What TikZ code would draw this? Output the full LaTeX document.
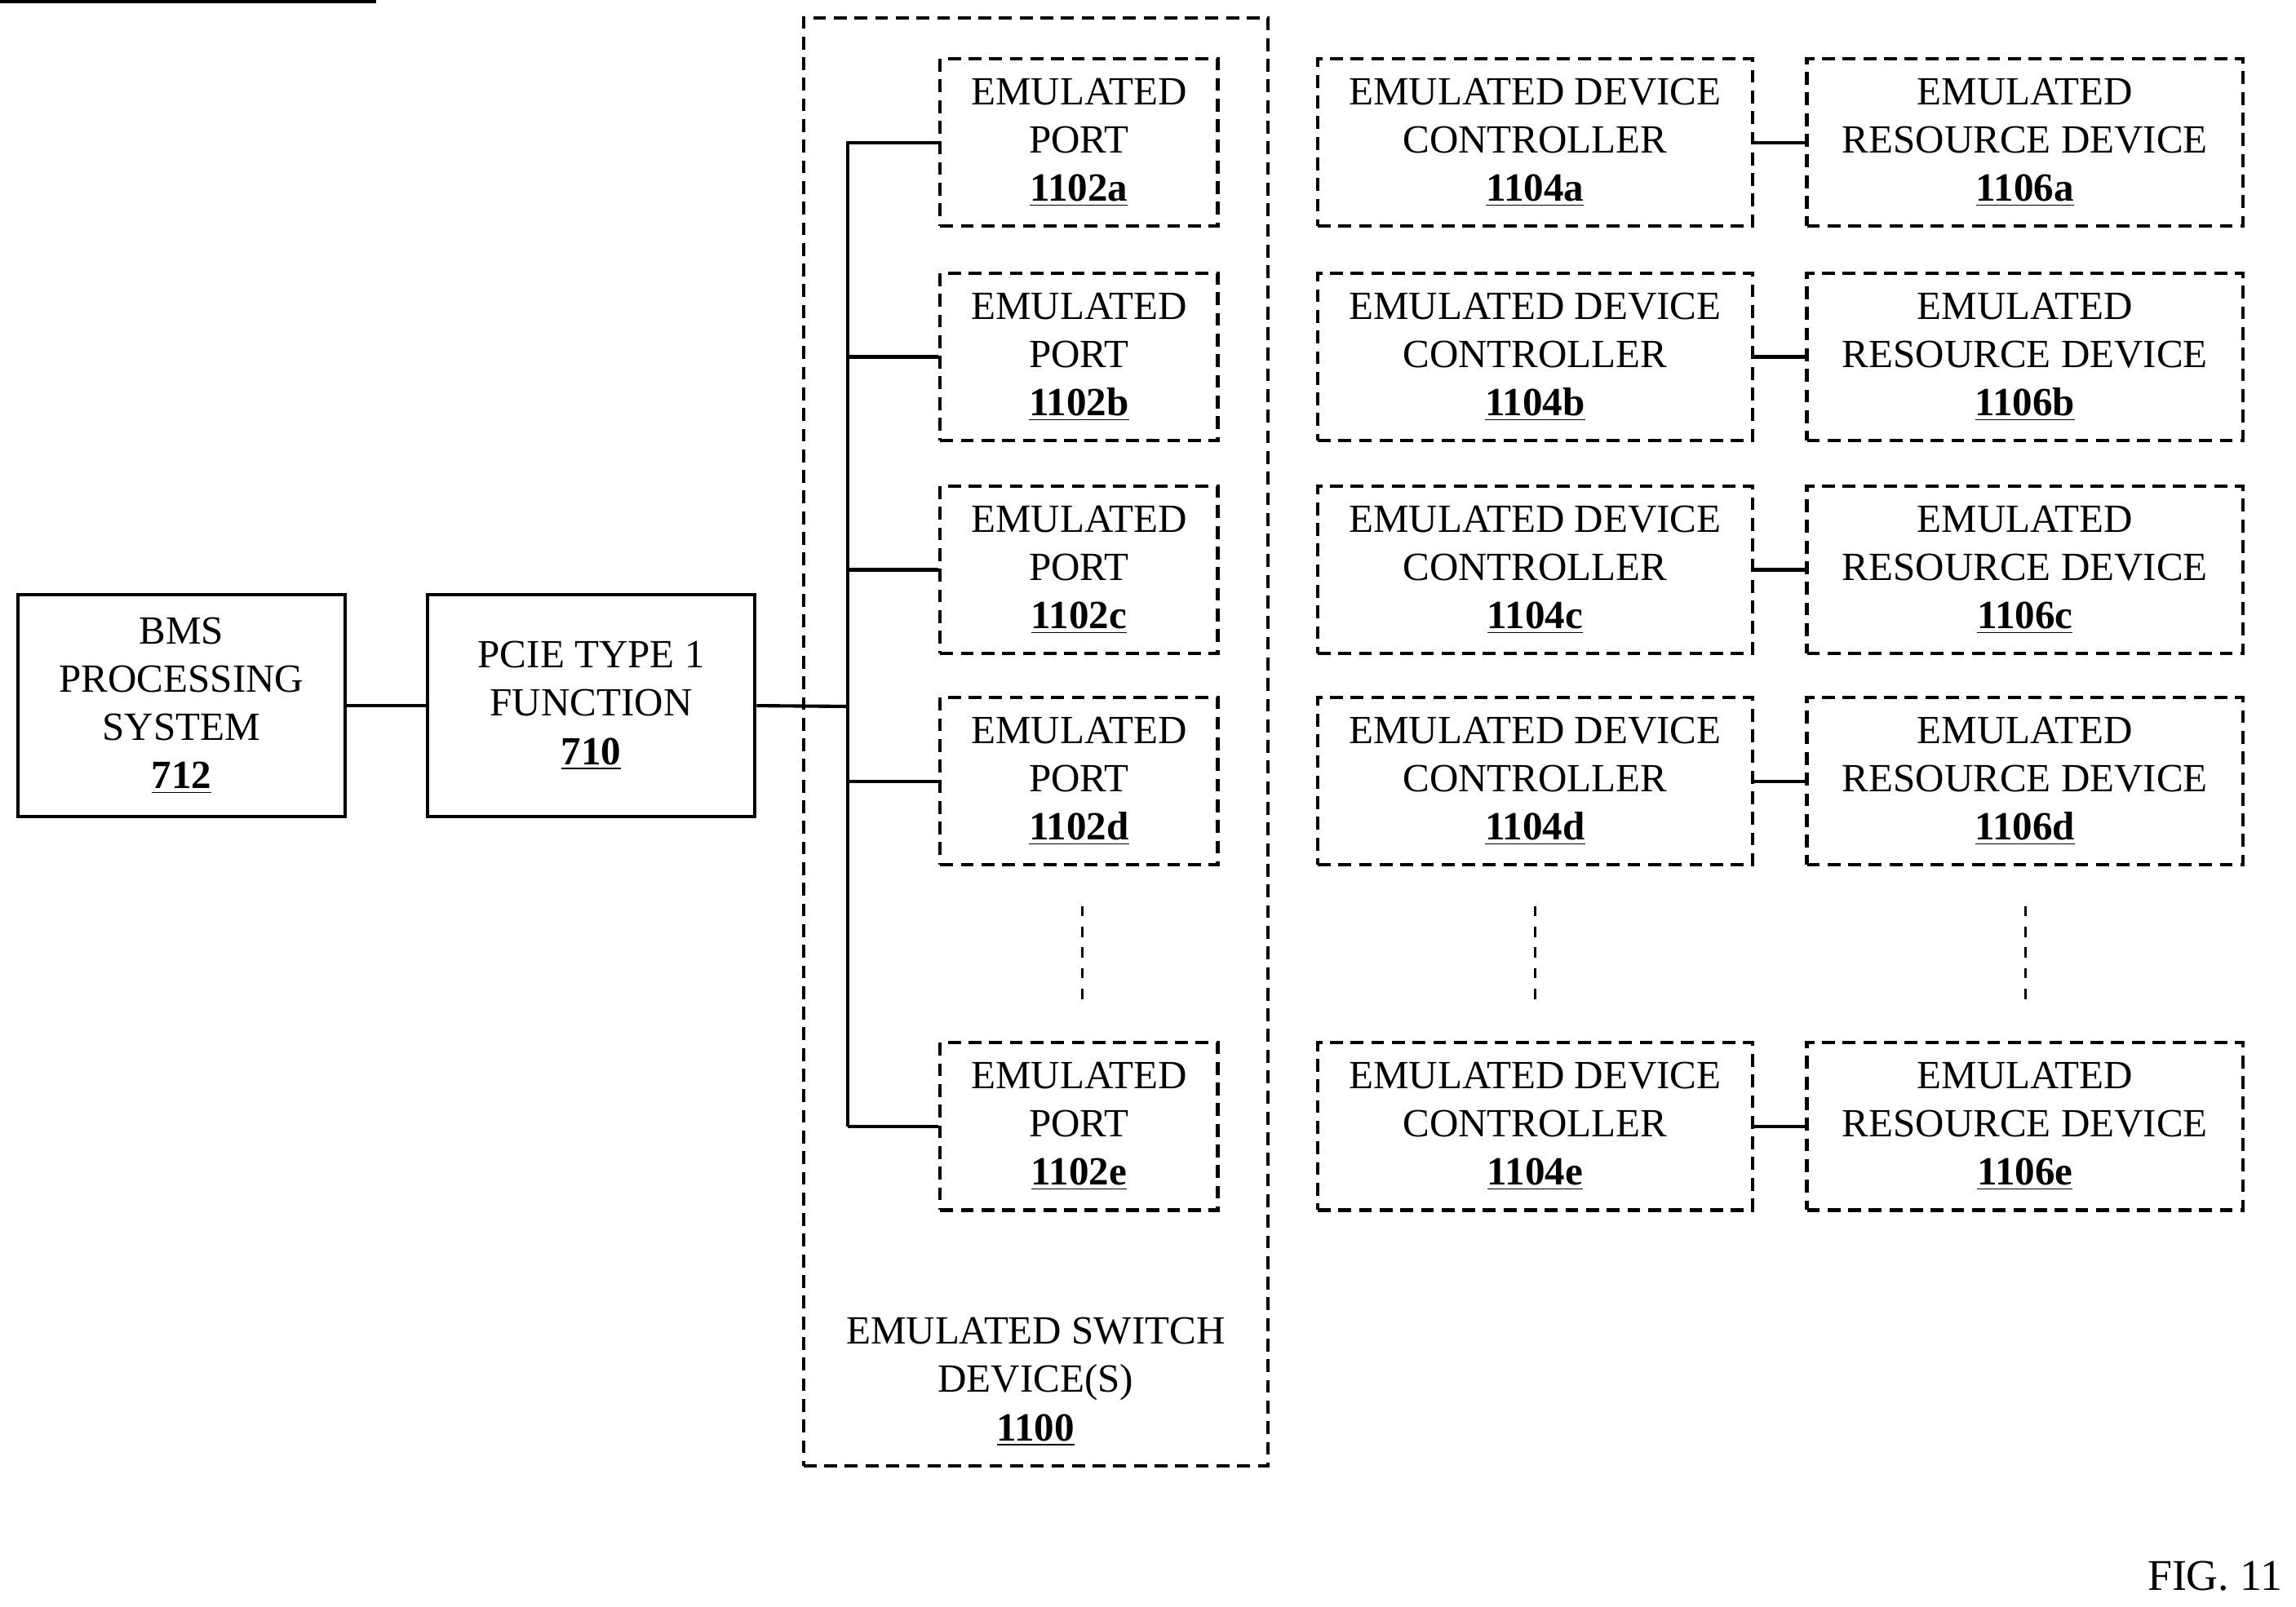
\documentclass[tikz,border=0pt]{standalone}
\usepackage{fontspec}
\setmainfont{Liberation Serif}
\begin{document}
\begin{tikzpicture}[x=0.02cm,y=-0.02cm,
  box/.style={draw,line width=1.3pt,align=center,inner sep=0pt,font=\fontsize{15.5}{18.7}\selectfont},
  dbox/.style={box,dash pattern=on 5pt off 3pt},
  ln/.style={line width=1.3pt},
  dl/.style={line width=1pt,dash pattern=on 4pt off 4pt}]
\useasboundingbox (0,0) rectangle (1563,1094);
\newcommand\lbl[1]{\underline{\textbf{#1}}}
\node[box,minimum width=223\pgflinewidth] at (0,0) {};
\node[box,minimum width=4.46cm,minimum height=3.02cm] (bms) at (123.5,480.5) {BMS\\PROCESSING\\SYSTEM\\\lbl{712}};
\node[box,minimum width=4.46cm,minimum height=3.02cm] (pcie) at (402.5,480.5) {PCIE TYPE 1\\FUNCTION\\\lbl{710}};
\draw[ln] (bms) -- (pcie);
\node[dbox,minimum width=6.32cm,minimum height=19.72cm] (sw) at (705,505) {};
\node[font=\fontsize{15.5}{18.7}\selectfont,align=center] (swl) at (705,941) {EMULATED SWITCH\\DEVICE(S)\\\lbl{1100}};
\coordinate (bt) at (577,96);
\coordinate (bb) at (577,767);
\coordinate (bm) at (577,481);
\draw[ln] (pcie.east) -- (bm);
\draw[ln] (bt) -- (bb);
\foreach \n/\y in {a/97,b/243,c/388,d/532,e/767}{
  \node[dbox,minimum width=3.78cm,minimum height=2.28cm] (p\n) at (734.5,\y) {EMULATED\\PORT\\\lbl{1102\n}};
  \coordinate (j\n) at (577,\y);
  \draw[ln] (j\n) -- (p\n.west);
  \node[dbox,minimum width=5.92cm,minimum height=2.28cm] (c\n) at (1045,\y) {EMULATED DEVICE\\CONTROLLER\\\lbl{1104\n}};
  \node[dbox,minimum width=5.94cm,minimum height=2.28cm] (r\n) at (1378.5,\y) {EMULATED\\RESOURCE DEVICE\\\lbl{1106\n}};
  \draw[ln] (c\n) -- (r\n);
}
\coordinate (d1a) at (737,617); \coordinate (d1b) at (737,685);
\coordinate (d2a) at (1045,617); \coordinate (d2b) at (1045,685);
\coordinate (d3a) at (1379,617); \coordinate (d3b) at (1379,685);
\draw[dl] (d1a) -- (d1b);
\draw[dl] (d2a) -- (d2b);
\draw[dl] (d3a) -- (d3b);
\node[font=\fontsize{17}{20}\selectfont,anchor=east] (fig) at (1560,1073) {FIG. 11};
\end{tikzpicture}
\end{document}
